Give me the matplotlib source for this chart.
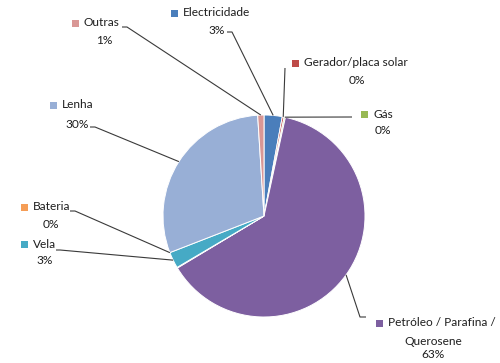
import numpy as np
import matplotlib
matplotlib.use('Agg')
from matplotlib import pyplot as plt

# dados (percentagens)
categorias = ['Electricidade', 'Gerador/placa solar', 'Gás', 'Petróleo / Parafina /\nQuerosene',
              'Bateria', 'Vela', 'Lenha', 'Outras']
valores = [2.9, 0.3, 0.2, 63.0, 0.1, 2.6, 29.9, 1.0]
rotulos_pct = ['3%', '0%', '0%', '63%', '0%', '3%', '30%', '1%']
cores = ['#4A7EBB', '#BE4B48', '#98B954', '#7D5FA0', '#F59D56', '#46AAC5', '#98AFD6', '#D99795']

# posicoes dos rotulos em pixels (x esquerda do nome, y do nome, x centro da %, y da %)
layout = {
    'Electricidade': (183, 13, 217, 30),
    'Gerador/placa solar': (304, 63, 357, 80),
    'Gás': (373, 114, 383, 131),
    'Petróleo / Parafina /\nQuerosene': (388, 323, 433, 340),
    'Bateria': (33, 207, 51, 224),
    'Vela': (33, 244, 45, 261),
    'Lenha': (62, 105, 77, 124),
    'Outras': (84, 23, 104, 41),
}
# inicio da linha de chamada (pixels) e desvio do angulo no bolo
linhas = {
    'Electricidade': ([227, 232], [32, 32], 0),
    'Gerador/placa solar': ([285], [68], 0),
    'Gás': ([352], [117], 0),
    'Petróleo / Parafina /\nQuerosene': ([366, 360], [317, 317], 0),
    'Bateria': ([70, 75], [211, 211], -9.5),
    'Vela': ([56, 60], [250, 250], 0),
    'Lenha': ([90, 95], [127, 127], 0),
    'Outras': ([122, 127], [27, 27], 0),
}

W, H = 500, 363
fig = plt.figure(figsize=(W / 100, H / 100), dpi=100)
ax = fig.add_axes([0, 0, 1, 1])

cx, cy, r = 264, H - 216, 101
wedges, _ = ax.pie(valores, colors=cores, startangle=90, counterclock=False,
                   center=(cx, cy), radius=r, frame=True,
                   wedgeprops=dict(edgecolor='white', linewidth=0.7))
ax.set_xlim(0, W)
ax.set_ylim(0, H)
ax.axis('off')

fonte = 'Lato'
tam = 8.6
cor_txt = '#1e1e1e'
cor_linha = '#3a3a3a'

for w, nome, pct, cor in zip(wedges, categorias, rotulos_pct, cores):
    xn, yn, xp, yp = layout[nome]
    partes = nome.split('\n')
    ax.text(xn, H - yn, partes[0], ha='left', va='center', fontsize=tam,
            family=fonte, color=cor_txt)
    ax.add_patch(plt.Rectangle((xn - 12, H - yn - 3.5), 7, 7, color=cor, lw=0))
    resto = '\n'.join(partes[1:] + [pct])
    desl = 8 * (len(partes) - 1)
    ax.text(xp, H - yp - desl, resto, ha='center', va='center', fontsize=tam,
            family=fonte, color=cor_txt, linespacing=1.3)

    # ponto de ligacao no bordo do bolo
    lx, ly, desvio = linhas[nome]
    ang = np.deg2rad((w.theta1 + w.theta2) / 2 + desvio)
    px, py = cx + r * np.cos(ang), cy + r * np.sin(ang)
    xs = list(lx) + [px]
    ys = [H - v for v in ly] + [py]
    ax.plot(xs, ys, color=cor_linha, lw=0.8, solid_capstyle='butt')

fig.savefig('out.png', dpi=100, facecolor='white')
